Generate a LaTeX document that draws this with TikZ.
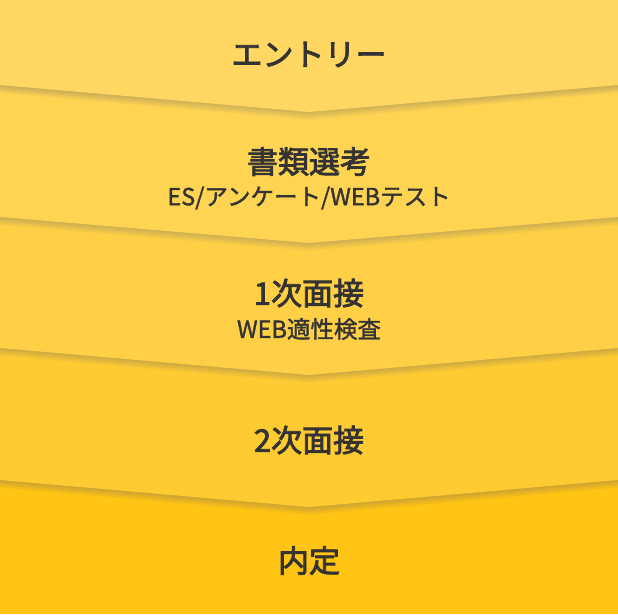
\documentclass[tikz,border=0pt]{standalone}
\usepackage{fontspec}
\setmainfont{Noto Sans CJK JP}
\definecolor{txt}{HTML}{333333}
\definecolor{bandA}{HTML}{FFD762}
\definecolor{bandB}{HTML}{FFD452}
\definecolor{bandC}{HTML}{FFD045}
\definecolor{bandD}{HTML}{FFCB33}
\definecolor{bandE}{HTML}{FFC414}
\definecolor{shade}{HTML}{C08800}
\tikzset{
  title/.style={text=txt, font=\fontsize{31}{36}\selectfont\addfontfeatures{FakeBold=2.6}, inner sep=0pt},
  sub/.style={text=txt, font=\fontsize{23.5}{28}\selectfont\addfontfeatures{FakeBold=1.4}, inner sep=0pt}
}
\begin{document}
\begin{tikzpicture}[x=1pt,y=-1pt]
\useasboundingbox (0,0) rectangle (618,614);
\clip (0,0) rectangle (618,614);
\fill[bandE] (0,0) rectangle (618,614);
\foreach \c/\s/\m in {bandD/480/507, bandC/348/375, bandB/217/243, bandA/85/112}{
  \foreach \k in {1,...,8}{
    \fill[shade, opacity=0.022] (-20,-20) -- (-20,\s+\k) -- (0,\s+\k) -- (309,\m+\k) -- (618,\s+\k) -- (640,\s+\k) -- (640,-20) -- cycle;
  }
  \fill[\c] (-20,-20) -- (-20,\s) -- (0,\s) -- (309,\m) -- (618,\s) -- (640,\s) -- (640,-20) -- cycle;
}
\node[title] (t1) at (309,54.5) {エントリー};
\node[title] (t2) at (309,161.5) {書類選考};
\node[sub]   (s2) at (309,198) {ES/アンケート/WEBテスト};
\node[title] (t3) at (309,293) {1次面接};
\node[sub]   (s3) at (309,329) {WEB適性検査};
\node[title] (t4) at (309,440) {2次面接};
\node[title] (t5) at (309,560.5) {内定};
\end{tikzpicture}
\end{document}
